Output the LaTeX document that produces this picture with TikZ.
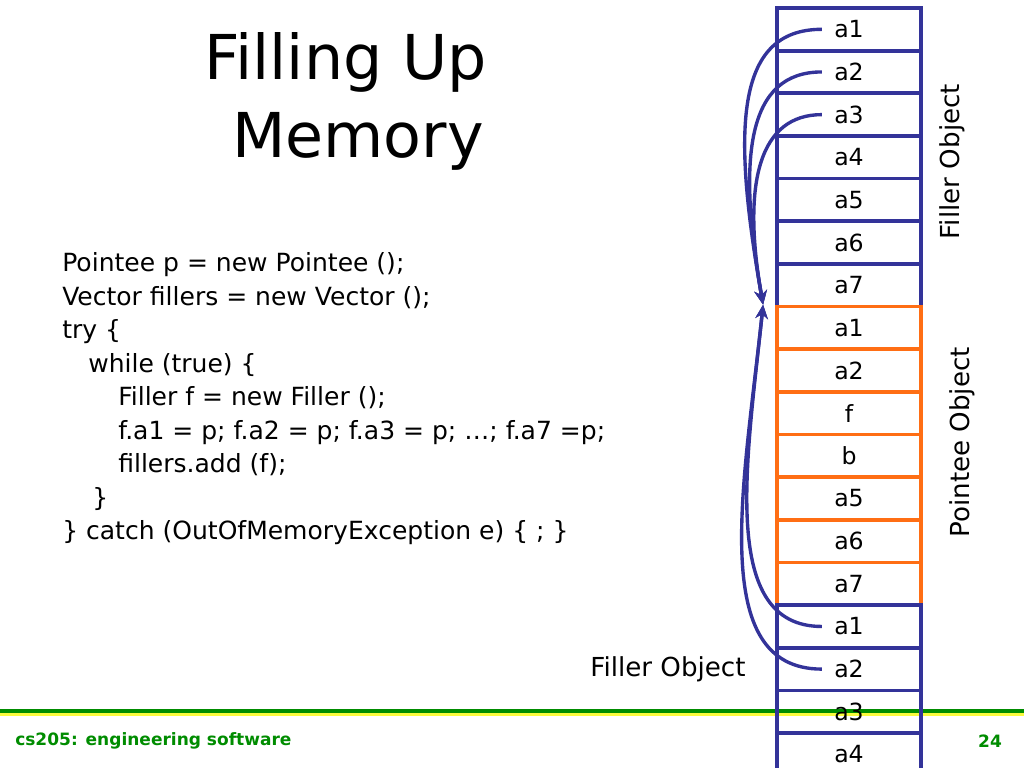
\documentclass[tikz,border=0pt]{standalone}
\usepackage{fontspec}
\setmainfont{DejaVu Sans}
\usetikzlibrary{arrows.meta}
\definecolor{memblue}{RGB}{51,51,153}
\definecolor{memorange}{RGB}{255,110,20}
\definecolor{footgreen}{RGB}{0,140,0}
\definecolor{footyellow}{RGB}{250,250,60}
\begin{document}
\begin{tikzpicture}[
  fillcell/.style={draw=memblue,line width=2.7pt,minimum width=3.6cm,minimum height=1.066cm,inner sep=0pt,font=\fontsize{16.8}{19}\selectfont},
  ptcell/.style={fillcell,draw=memorange},
  code/.style={anchor=base west,inner sep=0pt,font=\fontsize{17.8}{21}\selectfont},
  title/.style={anchor=base east,inner sep=0pt,font=\fontsize{44}{52}\selectfont},
  side/.style={inner sep=0pt,font=\fontsize{18.6}{21}\selectfont},
  foot/.style={inner sep=0pt,text=footgreen,font=\fontsize{12.1}{14}\selectfont\bfseries},
  ptr/.style={memblue,line width=2.4pt,-{Stealth[length=10pt,width=9pt]}}
]
\useasboundingbox (0,0) rectangle (25.6,19.2);
% footer bar
\draw[footgreen,line width=2.85pt] (0,1.4175) -- (25.6,1.4175);
\draw[footyellow,line width=1.7pt] (0,1.3375) -- (25.6,1.3375);
\node[foot,anchor=west] (course) at (0.375,0.675) {cs205: engineering software};
\node[foot] (page) at (24.75,0.675) {24};
% title
\node[title] (title1) at (12.175,17.2) {Filling Up};
\node[title] (title2) at (12.1,15.25) {Memory};
% code
\node[code] (c1) at (1.55,12.4) {Pointee p = new Pointee ();};
\node[code] (c2) at (1.55,11.5625) {Vector fillers = new Vector ();};
\node[code] (c3) at (1.55,10.725) {try \{};
\node[code] (c4) at (2.2,9.8875) {while (true) \{};
\node[code] (c5) at (2.95,9.05) {Filler f = new Filler ();};
\node[code] (c6) at (2.95,8.2125) {f.a1 = p; f.a2 = p; f.a3 = p; …; f.a7 =p;};
\node[code] (c7) at (2.95,7.375) {fillers.add (f);};
\node[code] (c8) at (2.3,6.5375) {\}};
\node[code] (c9) at (1.55,5.7) {\} catch (OutOfMemoryException e) \{ ; \}};
% filler object
\node[fillcell] (f1) at (21.225,18.467) {a1};
\node[fillcell] (f2) at (21.225,17.401) {a2};
\node[fillcell] (f3) at (21.225,16.334) {a3};
\node[fillcell] (f4) at (21.225,15.268) {a4};
\node[fillcell] (f5) at (21.225,14.202) {a5};
\node[fillcell] (f6) at (21.225,13.135) {a6};
\node[fillcell] (f7) at (21.225,12.069) {a7};
% pointee object
\node[ptcell] (p1) at (21.225,11.003) {a1};
\node[ptcell] (p2) at (21.225,9.936) {a2};
\node[ptcell] (p3) at (21.225,8.870) {f};
\node[ptcell] (p4) at (21.225,7.803) {b};
\node[ptcell] (p5) at (21.225,6.737) {a5};
\node[ptcell] (p6) at (21.225,5.671) {a6};
\node[ptcell] (p7) at (21.225,4.604) {a7};
% next filler object
\node[fillcell] (g1) at (21.225,3.538) {a1};
\node[fillcell] (g2) at (21.225,2.472) {a2};
\node[fillcell] (g3) at (21.225,1.405) {a3};
\node[fillcell] (g4) at (21.225,0.339) {a4};
% labels
\node[side,rotate=90] (fillerlbl) at (23.8,15.16) {Filler Object};
\node[side,rotate=90] (pointeelbl) at (24.05,8.14) {Pointee Object};
\node[side] (nextlbl) at (16.7,2.475) {Filler Object};
% pointers
\coordinate (hit) at ([xshift=-0.3cm]p1.north west);
\draw[ptr] ([xshift=-0.68cm]f1.center) to[out=180,in=100,out looseness=0.8,in looseness=1.6] (hit);
\draw[ptr] ([xshift=-0.68cm]f2.center) to[out=180,in=100,out looseness=0.8,in looseness=1.6] (hit);
\draw[ptr] ([xshift=-0.68cm]f3.center) to[out=180,in=100,out looseness=0.8,in looseness=1.6] (hit);
\draw[ptr] ([xshift=-0.68cm]g1.center) to[out=180,in=-96,out looseness=0.8,in looseness=1.25] (hit);
\draw[ptr] ([xshift=-0.68cm]g2.center) to[out=180,in=-96,out looseness=0.8,in looseness=1.25] (hit);
\end{tikzpicture}
\end{document}
